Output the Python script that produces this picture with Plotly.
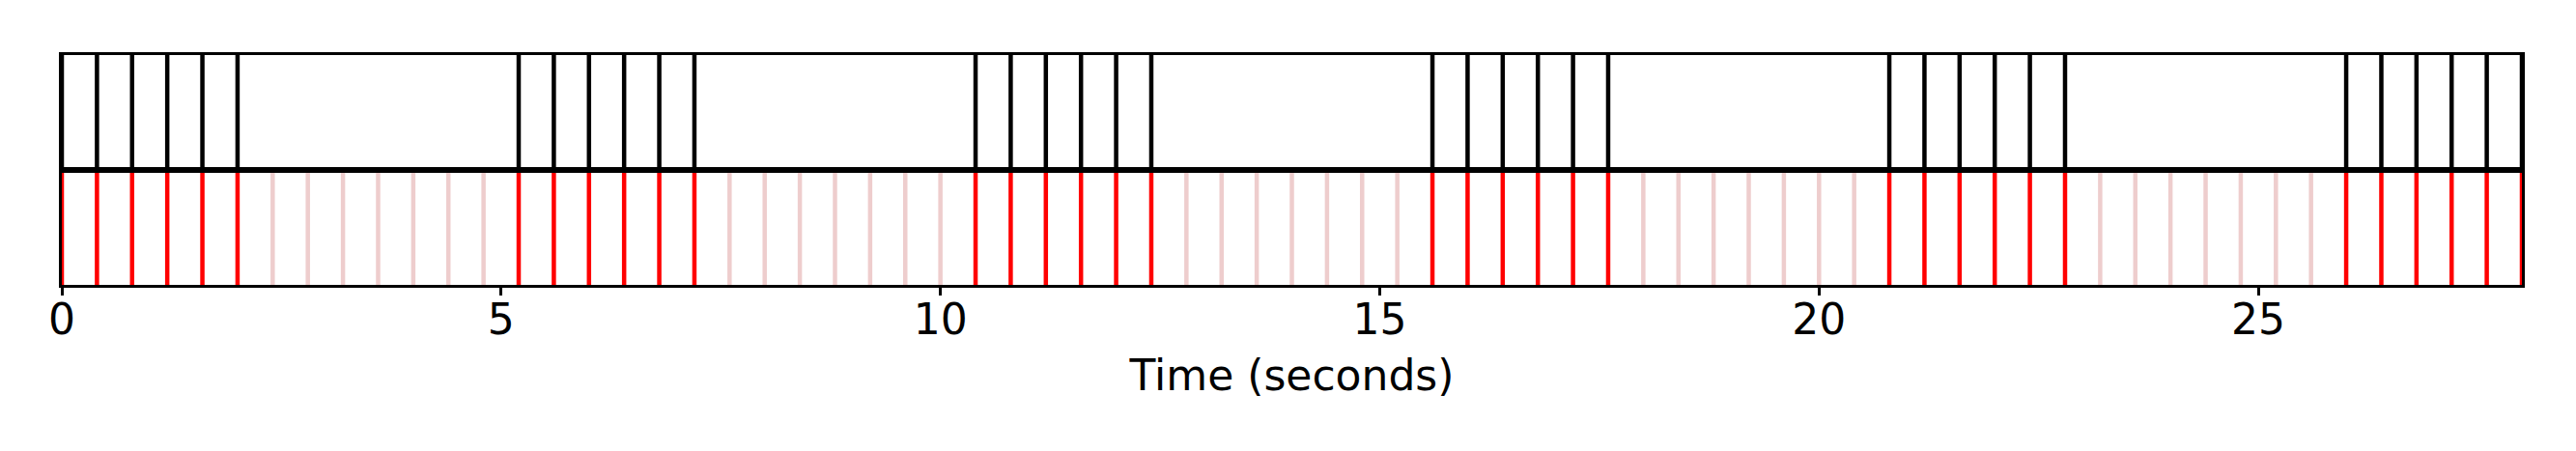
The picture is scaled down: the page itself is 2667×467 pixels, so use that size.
import plotly.graph_objects as go

# Beat times (seconds) where the pattern is active (black in top, red in bottom)
active_times = [0.0, 0.4, 0.8, 1.2, 1.6, 2.0,
                5.2, 5.6, 6.0, 6.4, 6.8, 7.2,
                10.4, 10.8, 11.2, 11.6, 12.0, 12.4,
                15.6, 16.0, 16.4, 16.8, 17.2, 17.6,
                20.8, 21.2, 21.6, 22.0, 22.4, 22.8,
                26.0, 26.4, 26.8, 27.2, 27.6, 28.0]
# Beat times of the inactive grid positions (light pink in bottom)
inactive_times = [2.4, 2.8, 3.2, 3.6, 4.0, 4.4, 4.8,
                  7.6, 8.0, 8.4, 8.8, 9.2, 9.6, 10.0,
                  12.8, 13.2, 13.6, 14.0, 14.4, 14.8, 15.2,
                  18.0, 18.4, 18.8, 19.2, 19.6, 20.0, 20.4,
                  23.2, 23.6, 24.0, 24.4, 24.8, 25.2, 25.6]
x_ticks = [0, 5, 10, 15, 20, 25]
x_tick_labels = ["0", "5", "10", "15", "20", "25"]
x_range = [0, 28]
x_title = "Time (seconds)"


def vlines(times):
    xs, ys = [], []
    for t in times:
        xs += [t, t, None]
        ys += [0, 1, None]
    return xs, ys


fig = go.Figure()

px_, py_ = vlines(inactive_times)
fig.add_trace(go.Scatter(x=px_, y=py_, mode="lines", xaxis="x", yaxis="y",
                         line=dict(color="rgb(238,205,205)", width=4.5),
                         hoverinfo="skip", showlegend=False))
rx, ry = vlines(active_times)
fig.add_trace(go.Scatter(x=rx, y=ry, mode="lines", xaxis="x", yaxis="y",
                         line=dict(color="#ff0000", width=4.5),
                         hoverinfo="skip", showlegend=False))
fig.add_trace(go.Scatter(x=rx, y=ry, mode="lines", xaxis="x2", yaxis="y2",
                         line=dict(color="#000000", width=4.5),
                         hoverinfo="skip", showlegend=False))

font = dict(family="DejaVu Sans", size=44, color="black")
common_axis = dict(showgrid=False, zeroline=False, showline=True, mirror=True,
                   linecolor="black", linewidth=3)

fig.update_layout(
    width=2667, height=467,
    margin=dict(l=56, r=64, t=49, b=180),
    paper_bgcolor="white", plot_bgcolor="white",
    font=font,
    showlegend=False,
    xaxis=dict(range=x_range, tickmode="array", tickvals=x_ticks, ticktext=x_tick_labels,
               ticks="outside", ticklen=8, tickwidth=3, tickcolor="black",
               tickfont=font, anchor="y", ticklabelstandoff=-13,
               title=dict(text=x_title, font=font, standoff=19),
               **common_axis),
    yaxis=dict(domain=[0, 0.5], range=[0, 1], showticklabels=False, ticks="",
               anchor="x", **common_axis),
    xaxis2=dict(range=x_range, matches="x", showticklabels=False, ticks="",
                anchor="y2", **common_axis),
    yaxis2=dict(domain=[0.5, 1], range=[0, 1], showticklabels=False, ticks="",
                anchor="x2", **common_axis),
)

fig.write_html("out.html")
